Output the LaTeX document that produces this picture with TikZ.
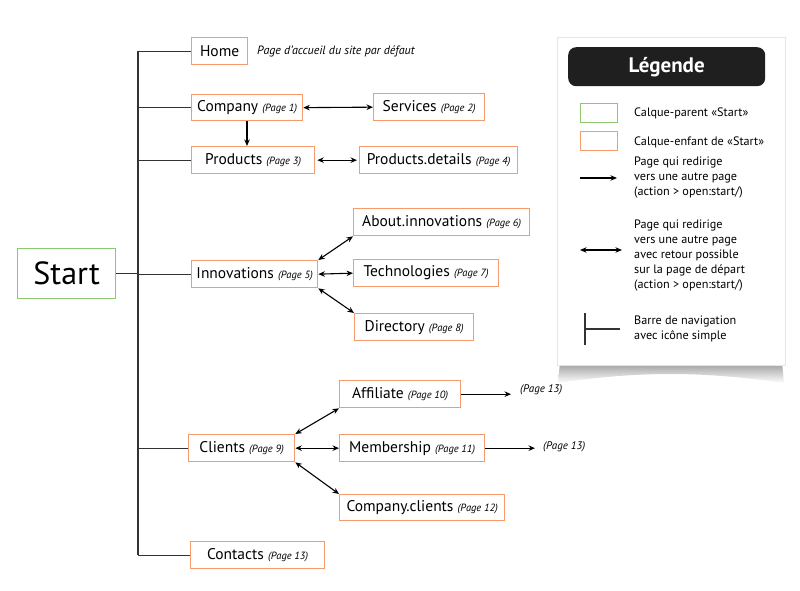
\documentclass[tikz,border=0pt]{standalone}
\usepackage{fontspec}
\setmainfont{PT Sans}
\usetikzlibrary{arrows.meta,calc}
\definecolor{orng}{HTML}{F79A6E}
\definecolor{grn}{HTML}{8CC86E}
\definecolor{ln}{HTML}{333333}
\newcommand{\pg}[1]{{\fontsize{10.5}{12}\selectfont\itshape #1}}
\tikzset{
  obox/.style={draw=orng, line width=1.3pt, fill=white, anchor=north west, inner sep=0pt,
    font=\fontsize{15.5}{17}\selectfont, text=black},
  tree/.style={draw=ln, line width=1.2pt},
  arr/.style={draw=black, line width=1.1pt, -{Stealth[length=6.5pt,width=5.5pt]}},
  darr/.style={draw=black, line width=1.1pt, {Stealth[length=6.5pt,width=5.5pt]}-{Stealth[length=6.5pt,width=5.5pt]}},
  legtxt/.style={anchor=west, font=\fontsize{12.2}{15}\selectfont, align=left, inner sep=0pt},
  pgtxt/.style={anchor=west, inner sep=0pt, font=\fontsize{11}{12}\selectfont\itshape}
}
\begin{document}
\begin{tikzpicture}[x=1pt,y=-1pt]
\useasboundingbox (0,0) rectangle (800,591);
% Start
\node[draw=grn, line width=1.3pt, anchor=north west, minimum width=98pt, minimum height=50pt, inner sep=0pt,
  font=\fontsize{32}{34}\selectfont] (start) at (17,248) {Start};
% boxes
\node[obox, minimum width=56pt, minimum height=27pt] (home) at (191,37) {Home};
\node[anchor=west, inner sep=0pt, font=\fontsize{12}{14}\selectfont\itshape] (homec) at (257,51) {Page d’accueil du site par défaut};
\node[obox, minimum width=111pt, minimum height=26pt] (comp) at (191,94) {Company \pg{(Page 1)}};
\node[obox, minimum width=111pt, minimum height=27pt] (serv) at (373,93) {Services \pg{(Page 2)}};
\node[obox, minimum width=123pt, minimum height=27pt] (prod) at (191,146) {Products \pg{(Page 3)}};
\node[obox, minimum width=158pt, minimum height=27pt] (pdet) at (359,146) {Products.details \pg{(Page 4)}};
\node[obox, minimum width=126pt, minimum height=27pt] (inno) at (191,260) {Innovations \pg{(Page 5)}};
\node[obox, minimum width=176pt, minimum height=27pt] (about) at (353,208) {About.innovations \pg{(Page 6)}};
\node[obox, minimum width=145pt, minimum height=27pt] (tech) at (353,259) {Technologies \pg{(Page 7)}};
\node[obox, minimum width=119pt, minimum height=27pt] (dir) at (354,313) {Directory \pg{(Page 8)}};
\node[obox, minimum width=106pt, minimum height=27pt] (cli) at (188,434) {Clients \pg{(Page 9)}};
\node[obox, minimum width=121pt, minimum height=27pt] (aff) at (339,380) {Affiliate \pg{(Page 10)}};
\node[obox, minimum width=145pt, minimum height=27pt] (mem) at (339,434) {Membership \pg{(Page 11)}};
\node[obox, minimum width=165pt, minimum height=26pt] (cc) at (339,494) {Company.clients \pg{(Page 12)}};
\node[obox, minimum width=134pt, minimum height=27pt] (cont) at (190,541) {Contacts \pg{(Page 13)}};
\node[pgtxt] (p13a) at (520,390) {(Page 13)};
\node[pgtxt] (p13b) at (543,447) {(Page 13)};
% tree
\coordinate (bartop) at (138,51);
\coordinate (barbot) at (138,555);
\draw[tree] (bartop) -- (barbot);
\draw[tree] (start.east) -- (start.east -| bartop);
\foreach \n in {home,comp,prod,inno,cli,cont}{\draw[tree] (\n.west -| bartop) -- (\n.west);}
% arrows
\draw[darr] (comp.east) -- (serv.west);
\draw[arr] (comp.south west) ++(56,0) coordinate (cdown) -- (cdown |- prod.north);
\draw[darr, shorten <=2pt, shorten >=2pt] (prod.east) -- (pdet.west);
\draw[darr] (inno.north east) -- (about.south west);
\draw[darr] (inno.east) -- (tech.west);
\draw[darr] (inno.south east) -- (dir.north west);
\draw[darr] (cli.north east) -- (aff.south west);
\draw[darr] (cli.east) -- (mem.west);
\draw[darr] (cli.south east) -- (cc.north west);
\draw[arr, shorten >=9pt] (aff.east) -- (aff.east -| p13a.west);
\draw[arr, shorten >=8pt] (mem.east) -- (mem.east -| p13b.west);
% legend panel
\shade[top color=black!40, bottom color=white] (560,362) -- (782,362) -- (784,383) .. controls (700,371) and (640,371) .. (558,383) -- cycle;
\node[draw=black!10, line width=1pt, fill=white, anchor=north west, minimum width=228pt, minimum height=328pt, inner sep=0pt] (panel) at (557,37) {};
\node[fill=black!88, rounded corners=8pt, anchor=north west, minimum width=197pt, minimum height=39pt, inner sep=0pt,
  text=white, font=\fontsize{21}{23}\selectfont\bfseries] (title) at (568,47) {Légende};
\node[draw=grn, line width=1.3pt, anchor=north west, minimum width=37pt, minimum height=19pt, inner sep=0pt] (lg) at (580,103) {};
\node[legtxt] (lgt) at (634,113) {Calque-parent «Start»};
\node[draw=orng, line width=1.3pt, anchor=north west, minimum width=37pt, minimum height=19pt, inner sep=0pt] (lo) at (580,131) {};
\node[legtxt] (lot) at (634,142) {Calque-enfant de «Start»};
\node[legtxt] (lat) at (634,178) {Page qui redirige\\vers une autre page\\(action > open:start/)};
\coordinate (la1) at (580,178);
\coordinate (la2) at (617,178);
\draw[arr] (la1) -- (la2);
\node[legtxt] (ldt) at (634,256) {Page qui redirige\\vers une autre page\\avec retour possible\\sur la page de départ\\(action > open:start/)};
\coordinate (ld1) at (580,250);
\coordinate (ld2) at (622,250);
\draw[darr] (ld1) -- (ld2);
\coordinate (ln1) at (585,313);
\coordinate (ln2) at (585,345);
\coordinate (ln3) at (620,329);
\draw[tree] (ln1) -- (ln2);
\draw[tree] (ln1 |- ln3) -- (ln3);
\node[legtxt] (lnt) at (634,329) {Barre de navigation\\avec icône simple};
\end{tikzpicture}
\end{document}
